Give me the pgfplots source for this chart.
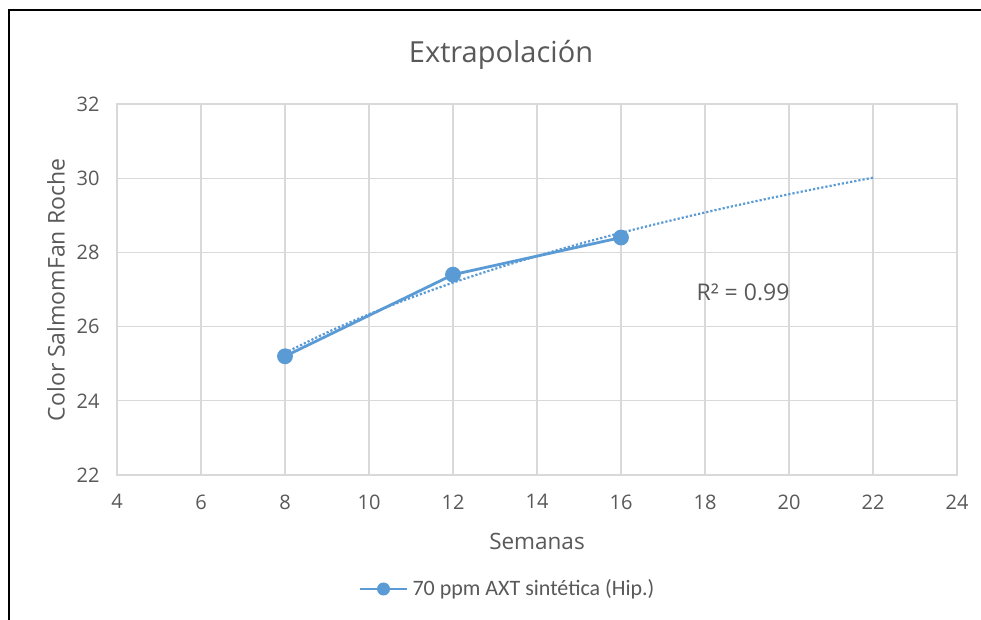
\documentclass[border=0pt]{standalone}
\usepackage{pgfplots}
\pgfplotsset{compat=1.18}
\usepackage{fontspec}
\setmainfont{Open Sans}
\newfontfamily\calib{Carlito}
\definecolor{txt}{HTML}{595959}
\definecolor{grd}{HTML}{D9D9D9}
\definecolor{ser}{HTML}{5B9BD5}
\begin{document}
\begin{tikzpicture}[x=1pt,y=1pt]
\useasboundingbox (-117,-145) rectangle (864,475);
\fill[white] (-117,-145) rectangle (864,475);
\draw[black,line width=1.8pt] (-108,-145) -- (-108,465) -- (866,465);
\begin{axis}[
  at={(0,0)}, anchor=origin,
  scale only axis, width=840pt, height=371pt,
  xmin=4, xmax=24, ymin=22, ymax=32,
  xtick={4,6,...,24}, ytick={22,24,...,32},
  grid=major,
  major grid style={grd, line width=1.3pt},
  axis line style={grd, line width=1.3pt},
  tick style={draw=none},
  /pgf/number format/assume math mode=true,
  ticklabel style={font=\fontsize{20}{23}\selectfont, text=txt},
  xticklabel style={yshift=-16pt},
  yticklabel style={xshift=-14pt},
  clip=false,
]
\addplot[ser, line width=2.8pt, mark=*, mark size=6.5pt, mark options={fill=ser, draw=ser}]
  coordinates {(8,25.2) (12,27.4) (16,28.4)};
\addplot[ser, line width=2.2pt, dotted, smooth, mark=none]
  coordinates {(8,25.291) (9,25.841) (10,26.333) (11,26.777) (12,27.184) (13,27.557) (14,27.903) (15,28.225) (16,28.527) (17,28.809) (18,29.076) (19,29.329) (20,29.568) (21,29.796) (22,30.013)};
\end{axis}
\node[txt, font=\fontsize{29}{33}\selectfont] at (384,420) {Extrapolación};
\node[txt, font=\fontsize{22.5}{26}\selectfont] at (420,-66) {Semanas};
\node[txt, font=\fontsize{23}{26}\selectfont, rotate=90] at (-61,185) {Color SalmomFan Roche};
\node[txt, font=\fontsize{23}{26}\selectfont] at (626,183) {R² = 0.99};
\draw[ser, line width=2.8pt] (243,-114) -- (290,-114);
\fill[ser] (266.5,-114) circle (6.5pt);
\node[txt, font=\calib\fontsize{22}{25}\selectfont, anchor=west] at (292,-114) {70 ppm AXT sintética (Hip.)};
\end{tikzpicture}
\end{document}
